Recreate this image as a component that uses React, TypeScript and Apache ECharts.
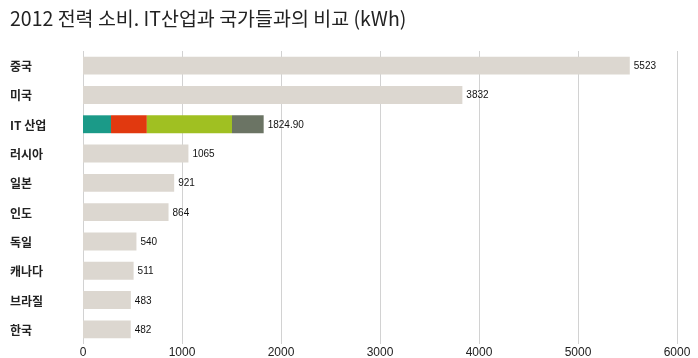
import React, { useEffect, useRef } from "react";
import * as echarts from "echarts";

const categories = ["중국", "미국", "IT 산업", "러시아", "일본", "인도", "독일", "캐나다", "브라질", "한국"];
const countryValues: (number | string)[] = [5523, 3832, "-", 1065, 921, 864, 540, 511, 483, 482];
const itSegments = [283, 362, 860, 319.9];
const itTotalLabel = "1824.90";
const itSegmentColors = ["#1b9a88", "#e1390f", "#a0c022", "#6b7464"];
const xTicks = [0, 1000, 2000, 3000, 4000, 5000, 6000];

export default function App() {
  const ref = useRef<HTMLDivElement>(null);
  useEffect(() => {
    if (!ref.current) return;
    const chart = echarts.init(ref.current, null, { renderer: "svg" });
    const itIndex = categories.indexOf("IT 산업");
    const valueLabel = {
      show: true,
      position: "right",
      distance: 4,
      fontSize: 10,
      fontWeight: 500,
      color: "#111",
      fontFamily: "Liberation Sans, Arial, sans-serif",
    };
    const segSeries = itSegments.map((v, i) => ({
      type: "bar",
      stack: "all",
      barCategoryGap: "39%",
      data: categories.map((_, k) => (k === itIndex ? v : "-")),
      itemStyle: { color: itSegmentColors[i] },
      label:
        i === itSegments.length - 1
          ? { ...valueLabel, formatter: () => itTotalLabel }
          : { show: false },
    }));
    chart.setOption({
      animation: false,
      title: {
        text: "2012 전력 소비. IT산업과 국가들과의 비교 (kWh)",
        left: 5,
        top: 3,
        textStyle: {
          fontSize: 19.5,
          fontWeight: "normal",
          color: "#222",
          fontFamily: "Noto Sans CJK KR",
        },
      },
      grid: { left: 83, right: 21, top: 51, bottom: 13, containLabel: false },
      xAxis: {
        type: "value",
        min: xTicks[0],
        max: xTicks[xTicks.length - 1],
        interval: 1000,
        axisLine: { show: false },
        axisTick: { show: false },
        splitLine: { show: true, lineStyle: { color: "#d2d2d2", width: 1 } },
        axisLabel: {
          margin: 2,
          fontSize: 12,
          color: "#222",
          fontFamily: "Liberation Sans, Arial, sans-serif",
          verticalAlign: "top",
          showMaxLabel: true,
          formatter: (v: number) => String(v),
        },
      },
      yAxis: {
        type: "category",
        inverse: true,
        data: categories,
        axisLine: { show: false },
        axisTick: { show: false },
        axisLabel: {
          align: "left",
          margin: 73,
          fontSize: 12,
          fontWeight: "bold",
          color: "#222",
          fontFamily: "Noto Sans CJK KR",
        },
      },
      series: [
        {
          type: "bar",
          stack: "all",
          barCategoryGap: "39%",
          data: countryValues,
          itemStyle: { color: "#dcd7d0" },
          label: valueLabel,
        },
        ...segSeries,
      ],
    });
    return () => chart.dispose();
  }, []);
  return (
    <div
      ref={ref}
      style={{ position: "fixed", left: 0, top: 0, width: 698, height: 358 }}
    />
  );
}
